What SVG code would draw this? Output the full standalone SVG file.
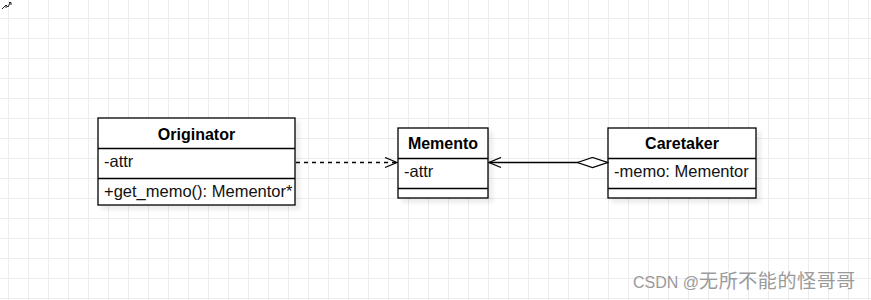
<svg xmlns="http://www.w3.org/2000/svg" width="871" height="300" viewBox="0 0 871 300">
<defs>
<pattern id="grid" x="8" y="18" width="20" height="20" patternUnits="userSpaceOnUse">
<path d="M0 0.5H20M0.5 0V20" fill="none" stroke="#ececec" stroke-width="1"/>
</pattern>
<filter id="sh" x="-10%" y="-10%" width="130%" height="140%">
<feGaussianBlur stdDeviation="2"/>
</filter>
<marker id="open" viewBox="0 0 14 12" refX="13" refY="6" markerWidth="14" markerHeight="12" markerUnits="userSpaceOnUse" orient="auto">
<path d="M1 1L13 6L1 11" fill="none" stroke="#000" stroke-width="1.3"/>
</marker>
<marker id="diamond" viewBox="0 0 32 12" refX="31" refY="6" markerWidth="32" markerHeight="12" markerUnits="userSpaceOnUse" orient="auto">
<path d="M1 6L16 1L31 6L16 11Z" fill="#fff" stroke="#000" stroke-width="1.3"/>
</marker>
</defs>
<style>
.box{fill:#fff;stroke:#000;stroke-width:1.3}
.shadow{fill:#000;opacity:0.07;filter:url(#sh)}
.div{stroke:#000;stroke-width:1.3}
.title{font-family:"Liberation Sans",Arial,sans-serif;font-size:16px;font-weight:bold;fill:#000;text-anchor:middle}
.item{font-family:"Liberation Sans",Arial,sans-serif;font-size:16.5px;fill:#111}
.edge{fill:none;stroke:#000;stroke-width:1.3}
</style>
<rect width="871" height="300" fill="#fff"/>
<rect width="871" height="300" fill="url(#grid)"/>
<path d="M2 9L6 5L8 7L10 3M9 2.5L11 2.5L11 5M6 5L6 8" fill="none" stroke="#222" stroke-width="1"/>

<g id="originator">
<rect class="shadow" x="101" y="121" width="199" height="89"/>
<rect class="box" x="98" y="118" width="197" height="87"/>
<line class="div" x1="98" y1="148.5" x2="295" y2="148.5"/>
<line class="div" x1="98" y1="178.5" x2="295" y2="178.5"/>
<text class="title" x="196.5" y="140">Originator</text>
<text class="item" x="104" y="167">-attr</text>
<text class="item" x="104" y="197">+get_memo(): Mementor*</text>
</g>

<g id="memento">
<rect class="shadow" x="401" y="131" width="92" height="72"/>
<rect class="box" x="398" y="128" width="90" height="70"/>
<line class="div" x1="398" y1="158.5" x2="488" y2="158.5"/>
<line class="div" x1="398" y1="188.5" x2="488" y2="188.5"/>
<text class="title" x="443" y="148.5">Memento</text>
<text class="item" x="404" y="177">-attr</text>
</g>

<g id="caretaker">
<rect class="shadow" x="611" y="131" width="150" height="72"/>
<rect class="box" x="608" y="128" width="148" height="70"/>
<line class="div" x1="608" y1="158.5" x2="756" y2="158.5"/>
<line class="div" x1="608" y1="188.5" x2="756" y2="188.5"/>
<text class="title" x="682" y="148.5">Caretaker</text>
<text class="item" x="614" y="177">-memo: Mementor</text>
</g>

<g id="connectors">
<line class="edge" x1="296" y1="162.5" x2="397" y2="162.5" stroke-dasharray="4 4" marker-end="url(#open)"/>
<line class="edge" x1="578" y1="162.5" x2="489" y2="162.5" marker-end="url(#open)"/>
<line class="edge" x1="578" y1="162.5" x2="607.5" y2="162.5" marker-end="url(#diamond)"/>
</g>

<text x="633" y="288" font-family="Liberation Sans,'Noto Sans CJK SC',sans-serif" font-size="16" fill="#9a9a9a">CSDN @<tspan font-family="'Noto Sans CJK SC',sans-serif" font-size="19" letter-spacing="0.6">无所不能的怪哥哥</tspan></text>
</svg>
